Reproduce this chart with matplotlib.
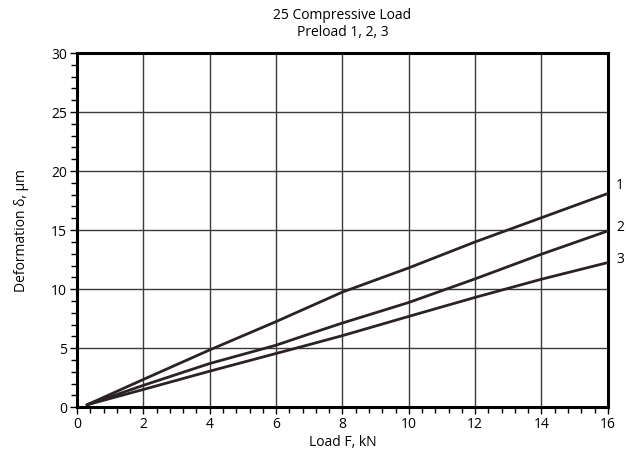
import matplotlib
matplotlib.use("Agg")
import matplotlib.pyplot as plt
import numpy as np

plt.rcParams['font.family'] = ['Open Sans', 'DejaVu Sans']

# curve data (load kN -> deformation um)
load = [0.3, 2, 4, 6, 7, 8, 10, 12, 14, 16]
preload_1 = [0.2, 2.35, 4.85, 7.25, 8.5, 9.75, 11.8, 14.0, 16.05, 18.1]
preload_2 = [0.2, 1.85, 3.7, 5.25, 6.2, 7.13, 8.87, 10.87, 12.96, 14.93]
preload_3 = [0.2, 1.5, 3.05, 4.55, 5.3, 6.06, 7.69, 9.3, 10.84, 12.25]
curve_names = ['1', '2', '3']
label_y = [18.8, 15.2, 12.5]

x_ticks = np.arange(0, 17, 2)
y_ticks = np.arange(0, 31, 5)

fig = plt.figure(figsize=(6.26, 4.57), dpi=100)
ax = fig.add_axes([0.123, 0.109, 0.848, 0.775])

line_col = '#2b2223'
for ys in [preload_1, preload_2, preload_3]:
    ax.plot(load, ys, color=line_col, lw=2.0, solid_capstyle='round',
            solid_joinstyle='round', zorder=3)

for name, yl in zip(curve_names, label_y):
    ax.text(16.25, yl, name, fontsize=10, va='center', ha='left', clip_on=False)

ax.set_xlim(0, 16)
ax.set_ylim(0, 30)
ax.set_xticks(x_ticks)
ax.set_yticks(y_ticks)
ax.set_xticks(np.arange(0, 16.01, 0.4), minor=True)
ax.set_yticks(np.arange(0, 30.01, 1), minor=True)
ax.grid(True, which='major', color='#3a3a3a', lw=1.0)
ax.set_axisbelow(True)

for s in ax.spines.values():
    s.set_linewidth(2.2)
    s.set_color('black')
ax.tick_params(which='major', direction='out', length=5, width=1, labelsize=10, pad=2)
ax.tick_params(which='minor', direction='out', length=4, width=1)

ax.set_xlabel('Load F, kN', fontsize=10, labelpad=2)
ax.set_ylabel('Deformation δ, μm', fontsize=10, labelpad=16)
ax.set_title('25 Compressive Load\nPreload 1, 2, 3', fontsize=10, pad=12, linespacing=1.2)

fig.savefig('out.png', dpi=100)
